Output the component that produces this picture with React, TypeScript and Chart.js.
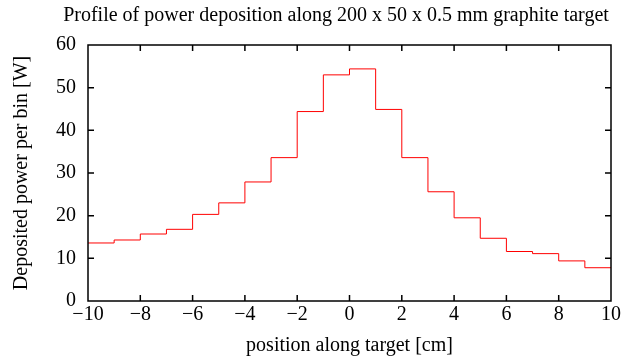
import React, { useEffect, useRef } from "react";
import { Chart, registerables } from "chart.js";

Chart.register(...registerables);

const chartTitle = "Profile of power deposition along 200 x 50 x 0.5 mm graphite target";
const xTitle = "position along target [cm]";
const yTitle = "Deposited power per bin [W]";

// bin edges along the target [cm]
const binEdges = [-10, -9, -8, -7, -6, -5, -4, -3, -2, -1, 0, 1, 2, 3, 4, 5, 6, 7, 8, 9, 10];
// deposited power per bin [W]
const power = [13.6, 14.3, 15.7, 16.8, 20.3, 23.0, 27.9, 33.6, 44.4, 53.0, 54.4, 44.9, 33.6, 25.6, 19.5, 14.7, 11.6, 11.1, 9.4, 7.8];

const xMin = -10, xMax = 10, xStep = 2;
const yMin = 0, yMax = 60, yStep = 10;

const FONT = "'Liberation Serif', 'DejaVu Serif', serif";

const framePlugin = {
  id: "frame",
  afterDraw(chart: any) {
    const { ctx, chartArea } = chart;
    const { left, right, top, bottom } = chartArea;
    const xs = chart.scales.x;
    const ys = chart.scales.y;
    ctx.save();
    ctx.strokeStyle = "#000";
    ctx.lineWidth = 1.5;
    const tl = 6;
    ctx.beginPath();
    xs.ticks.forEach((t: any) => {
      const px = xs.getPixelForValue(t.value);
      if (t.value === xMin || t.value === xMax) return;
      ctx.moveTo(px, bottom);
      ctx.lineTo(px, bottom - tl);
      ctx.moveTo(px, top);
      ctx.lineTo(px, top + tl);
    });
    ys.ticks.forEach((t: any) => {
      const py = ys.getPixelForValue(t.value);
      if (t.value === yMin || t.value === yMax) return;
      ctx.moveTo(left, py);
      ctx.lineTo(left + tl, py);
      ctx.moveTo(right, py);
      ctx.lineTo(right - tl, py);
    });
    ctx.stroke();
    ctx.strokeRect(left, top, right - left, bottom - top);
    // title
    ctx.fillStyle = "#000";
    ctx.font = `20px ${FONT}`;
    ctx.textAlign = "center";
    ctx.textBaseline = "middle";
    ctx.fillText(chartTitle, 336, 16);
    ctx.restore();
  },
};

export default function App() {
  const ref = useRef<HTMLCanvasElement>(null);
  useEffect(() => {
    document.body.style.margin = "0";
    const data = binEdges.map((x, i) => ({ x, y: power[Math.min(i, power.length - 1)] }));
    const chart = new Chart(ref.current as HTMLCanvasElement, {
      type: "line",
      data: {
        datasets: [
          {
            data,
            borderColor: "#ff0000",
            borderWidth: 1,
            pointRadius: 0,
            stepped: true,
            fill: false,
          },
        ],
      },
      options: {
        animation: false,
        responsive: false,
        plugins: { legend: { display: false }, tooltip: { enabled: false } },
        layout: { padding: { top: 45, right: 14, left: 0, bottom: 0 } },
        scales: {
          x: {
            type: "linear",
            min: xMin,
            max: xMax,
            grid: { display: false, drawTicks: false },
            border: { display: false },
            afterFit: (s: any) => { s.height = 61; },
            ticks: {
              stepSize: xStep,
              padding: 2,
              color: "#000",
              font: { family: FONT, size: 20 },
              maxRotation: 0,
              callback: (v: any) => (Number(v) < 0 ? "\u2212" + Math.abs(Number(v)) : String(v)),
            },
            title: { display: true, text: xTitle, color: "#000", font: { family: FONT, size: 20 }, padding: { top: 0, bottom: 4 } },
          },
          y: {
            min: yMin,
            max: yMax,
            grid: { display: false, drawTicks: false },
            border: { display: false },
            afterFit: (s: any) => { s.width = 88; },
            ticks: {
              stepSize: yStep,
              padding: 12,
              color: "#000",
              font: { family: FONT, size: 20 },
            },
            title: { display: true, text: yTitle, color: "#000", font: { family: FONT, size: 20 }, padding: { top: 10, bottom: 0 } },
          },
        },
      },
      plugins: [framePlugin],
    });
    return () => chart.destroy();
  }, []);
  return (
    <div style={{ width: 625, height: 362 }}>
      <canvas ref={ref} width={625} height={362} />
    </div>
  );
}
